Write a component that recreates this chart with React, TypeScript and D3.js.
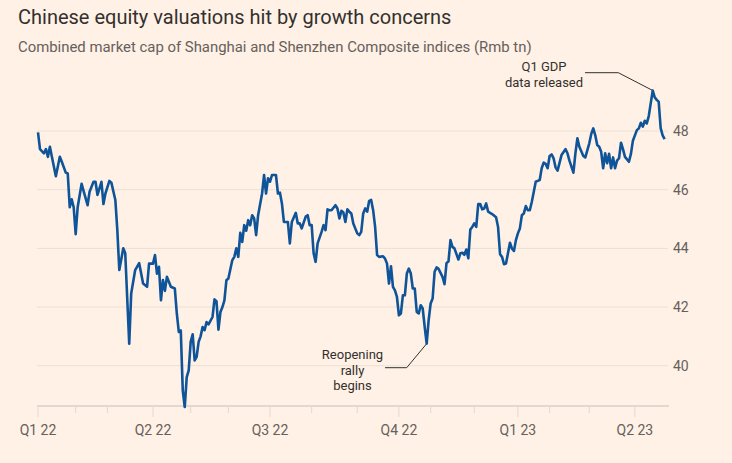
import React from "react";
import * as d3 from "d3";

// ---- Data (trading-day index since 4 Jan 2022, market cap Rmb tn) ----
const tradingDay: number[] = [
  0, 1, 3, 4, 5, 6, 7, 9, 11, 12, 14, 15, 16, 17, 18, 19, 20, 22, 25, 26, 28, 29, 30, 32, 33, 34, 36, 37, 39, 40,
  41, 43, 44, 46, 47, 49, 51, 53, 55, 56, 58, 59, 60, 61, 62, 63, 64, 65, 67, 69, 70, 71, 72, 73, 74, 75, 76, 77, 78, 79,
  80, 81, 82, 83, 84, 85, 86, 88, 89, 90, 91, 92, 93, 94, 95, 96, 98, 99, 100, 101, 102, 103, 104, 105, 106, 107, 108, 109, 110, 111,
  113, 114, 115, 116, 117, 118, 120, 121, 122, 123, 124, 126, 127, 128, 130, 131, 132, 133, 135, 136, 137, 138, 139, 140, 141, 143, 144, 145, 146, 147,
  148, 150, 151, 152, 153, 154, 155, 156, 157, 158, 159, 161, 162, 163, 164, 165, 166, 167, 168, 169, 170, 171, 172, 174, 175, 176, 177, 178, 179, 180,
  181, 182, 183, 184, 185, 186, 187, 188, 189, 190, 191, 192, 193, 194, 195, 196, 197, 198, 199, 200, 201, 202, 204, 205, 206, 207, 208, 209, 210, 212,
  213, 214, 215, 216, 217, 218, 219, 220, 221, 222, 223, 224, 225, 226, 227, 229, 231, 232, 233, 234, 235, 236, 238, 239, 240, 241, 242, 243, 244, 245,
  246, 247, 248, 249, 251, 252, 253, 254, 255, 256, 257, 258, 259, 260, 261, 262, 264, 266, 267, 268, 270, 271, 272, 273, 275, 276, 278, 279, 280, 281,
  282, 283, 284, 285, 286, 287, 288, 289, 290, 291, 292, 293, 294, 295, 296, 298, 299, 300, 302, 303, 304, 305, 306, 307, 308, 309, 310, 311, 312, 313,
  314, 315, 316,
];

const marketCap: number[] = [
  47.95, 47.38, 47.24, 47.38, 47.12, 47.46, 47.12, 46.46, 47.12, 46.95, 46.58, 46.55, 45.4, 45.67, 45.4, 44.48, 45.4, 46.2, 45.47, 45.93, 46.27, 46.27, 45.82, 46.27, 45.51, 45.87, 46.3, 46.24, 45.65, 44.62,
  43.26, 44.0, 43.83, 40.75, 42.46, 43.26, 43.5, 42.8, 42.69, 43.48, 43.48, 43.77, 43.14, 43.37, 42.23, 42.92, 42.55, 43.03, 42.69, 42.63, 41.78, 41.15, 41.2, 39.16, 38.59, 39.61, 39.84, 40.81, 41.07, 40.18,
  40.3, 40.81, 41.0, 41.32, 41.21, 41.49, 41.41, 41.66, 42.26, 42.2, 41.23, 41.83, 42.0, 42.23, 42.91, 42.97, 43.6, 43.71, 44.0, 43.71, 44.53, 44.22, 44.79, 44.6, 44.96, 44.79, 45.13, 45.02, 44.45, 45.13,
  45.87, 46.5, 45.87, 46.39, 46.27, 46.5, 46.5, 45.87, 45.9, 45.53, 44.9, 44.9, 44.17, 44.9, 45.21, 44.85, 44.85, 44.68, 45.08, 45.13, 44.79, 44.79, 43.83, 43.54, 44.17, 44.56, 44.79, 44.62, 45.33, 45.3,
  45.3, 45.47, 45.36, 45.02, 45.28, 45.22, 44.9, 45.33, 45.25, 45.19, 44.85, 44.51, 44.45, 44.56, 45.19, 45.36, 45.25, 45.62, 45.65, 45.3, 44.73, 43.77, 43.71, 43.73, 43.65, 43.48, 42.8, 43.39, 42.69, 42.57,
  42.35, 41.72, 41.78, 42.4, 42.4, 43.14, 43.31, 43.14, 42.63, 42.63, 41.83, 41.78, 42.06, 41.95, 41.32, 40.75, 41.55, 42.12, 42.29, 43.2, 43.35, 43.3, 43.03, 42.78, 43.5, 43.55, 44.28, 44.05, 44.0, 43.62,
  43.83, 43.85, 43.78, 43.96, 43.66, 44.64, 44.73, 44.85, 44.73, 45.51, 45.51, 45.33, 45.36, 45.53, 45.25, 45.17, 45.06, 44.73, 43.8, 43.71, 43.46, 43.48, 44.19, 43.99, 43.91, 44.28, 44.51, 44.68, 45.13, 45.19,
  45.44, 45.3, 45.3, 45.58, 46.27, 46.3, 46.33, 46.73, 46.92, 46.88, 46.73, 47.15, 47.2, 47.07, 46.76, 46.65, 47.18, 47.38, 47.24, 46.99, 46.58, 47.24, 47.75, 47.46, 47.15, 47.1, 47.58, 47.9, 48.09, 47.86,
  47.52, 47.46, 47.29, 46.73, 47.24, 46.9, 47.22, 46.73, 47.1, 46.73, 46.99, 47.07, 47.6, 47.38, 47.12, 46.95, 47.22, 47.67, 48.03, 48.09, 48.28, 48.15, 48.35, 48.26, 48.51, 48.95, 49.38, 49.15, 49.06, 49.0,
  48.1, 47.85, 47.72,
];

const quarterTickDays: number[] = [0, 58, 117, 182, 242, 301];
const quarterTickLabels: string[] = ["Q1 22", "Q2 22", "Q3 22", "Q4 22", "Q1 23", "Q2 23"];
const monthTickDays: number[] = [19, 35, 77, 96, 138, 161, 198, 220, 258, 278];
const yTicks: number[] = [40, 42, 44, 46, 48];
const lastTradingDay = 318;

const gdpDay = 310;
const reopeningDay = 196;

const title = "Chinese equity valuations hit by growth concerns";
const subtitle = "Combined market cap of Shanghai and Shenzhen Composite indices (Rmb tn)";

const W = 732;
const H = 463;
const BG = "#fff1e5";
const FONT = "Roboto, 'Noto Sans', sans-serif";

export default function App() {
  const x = d3.scaleLinear().domain([0, lastTradingDay]).range([38, 668.6]);
  const y = d3.scaleLinear().domain([40, 48]).range([365.7, 131]);
  const baseY = 406;

  const points: [number, number][] = tradingDay.map((d, i) => [d, marketCap[i]]);
  const line = d3
    .line<[number, number]>()
    .x((d) => x(d[0]))
    .y((d) => y(d[1]));

  const gdpIdx = tradingDay.indexOf(gdpDay);
  const gx = x(gdpDay);
  const gy = y(marketCap[gdpIdx]);
  const rIdx = tradingDay.indexOf(reopeningDay);
  const rx = x(reopeningDay);
  const ry = y(marketCap[rIdx]);

  return (
    <svg
      width={W}
      height={H}
      style={{ position: "absolute", left: 0, top: 0, display: "block" }}
      fontFamily={FONT}
    >
      <rect x={0} y={0} width={W} height={H} fill={BG} />
      <text x={18} y={24} fontSize={20} fill="#33302e">
        {title}
      </text>
      <text x={18} y={52} fontSize={14.9} fill="#66605c">
        {subtitle}
      </text>

      {/* gridlines */}
      {yTicks.map((t) => (
        <g key={t}>
          <line x1={37} x2={668} y1={y(t)} y2={y(t)} stroke="#ebe0d6" strokeWidth={1} />
          <text x={673} y={y(t) + 5} fontSize={14} fill="#66605c">
            {t}
          </text>
        </g>
      ))}

      {/* x axis */}
      <line x1={37} x2={669} y1={baseY} y2={baseY} stroke="#e3d8cf" strokeWidth={2} />
      {monthTickDays.map((d) => (
        <line key={d} x1={x(d)} x2={x(d)} y1={baseY} y2={baseY + 7} stroke="#e3d8cf" strokeWidth={1} />
      ))}
      {quarterTickDays.map((d, i) => (
        <g key={d}>
          <line x1={x(d)} x2={x(d)} y1={baseY} y2={baseY + 11} stroke="#e3d8cf" strokeWidth={1} />
          <text x={x(d)} y={435} fontSize={14} fill="#66605c" textAnchor="middle">
            {quarterTickLabels[i]}
          </text>
        </g>
      ))}

      {/* annotations */}
      <polyline
        points={`585,${72.7} 618.3,${72.7} ${gx},${gy}`}
        fill="none"
        stroke="#33302e"
        strokeWidth={1}
      />
      <text x={544} y={71} fontSize={13} fill="#33302e" textAnchor="middle">
        Q1 GDP
      </text>
      <text x={544} y={87} fontSize={13} fill="#33302e" textAnchor="middle">
        data released
      </text>

      <polyline
        points={`${rx},${ry} 406.7,367.7 385,367.7`}
        fill="none"
        stroke="#33302e"
        strokeWidth={1}
      />
      <text x={352.5} y={359} fontSize={13} fill="#33302e" textAnchor="middle">
        Reopening
      </text>
      <text x={352.5} y={374.5} fontSize={13} fill="#33302e" textAnchor="middle">
        rally
      </text>
      <text x={352.5} y={390} fontSize={13} fill="#33302e" textAnchor="middle">
        begins
      </text>

      <path d={line(points) ?? ""} fill="none" stroke="#0f5499" strokeWidth={2.6} strokeLinejoin="round" />
    </svg>
  );
}
